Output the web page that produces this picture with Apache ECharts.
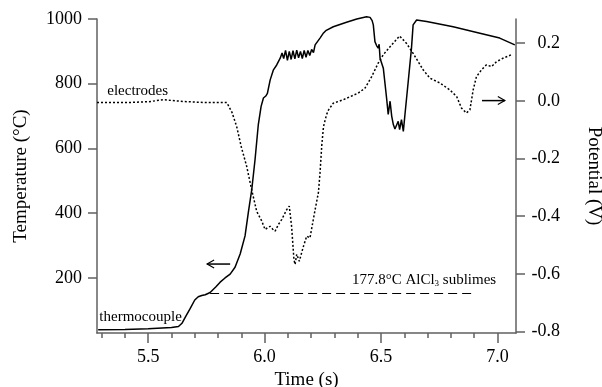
<!DOCTYPE html>
<html>

<head>
	<title>Temperature and potential</title>
	<script src="https://cdn.jsdelivr.net/npm/echarts@6/dist/echarts.min.js"></script>
</head>

<body style="margin:0">
	<div id="main" style="width: 602px;height:387px;"></div>
	<script type="text/javascript">
	// thermocouple temperature (degC) vs time (s)
	var tempTime = [5.285, 5.40, 5.50, 5.60, 5.63, 5.645, 5.66, 5.68, 5.70, 5.715, 5.73, 5.745, 5.766, 5.79, 5.809, 5.83, 5.852, 5.873, 5.895, 5.916, 5.93, 5.945, 5.959, 5.973, 5.985, 5.995, 6.005, 6.012, 6.024, 6.038, 6.052, 6.067,
		6.075, 6.082, 6.09, 6.098, 6.106, 6.114, 6.122, 6.13, 6.138, 6.146, 6.154, 6.162, 6.17, 6.178, 6.186, 6.194, 6.202, 6.21, 6.217, 6.238, 6.251, 6.265, 6.295, 6.352, 6.396, 6.438, 6.453, 6.462, 6.467, 6.474, 6.481, 6.488, 6.492, 6.496,
		6.51, 6.524, 6.531, 6.539, 6.546, 6.553, 6.56, 6.567, 6.574, 6.58, 6.588, 6.596, 6.603, 6.617, 6.631, 6.638, 6.653, 6.696, 6.81, 6.925, 7.01, 7.075];
	var tempValue = [40, 41, 43, 47, 50, 60, 80, 105, 132, 142, 146, 148, 155, 172, 187, 200, 212, 233, 274, 330, 402, 474, 566, 674, 730, 756, 762, 770, 812, 843, 858, 879,
		895, 878, 903, 872, 900, 875, 902, 877, 904, 880, 900, 878, 903, 882, 903, 887, 906, 896, 920, 941, 955, 965, 976, 990, 1000, 1007, 1005, 995, 982, 930, 918, 910, 922, 879,
		848, 756, 705, 746, 700, 674, 660, 658, 684, 658, 689, 653, 705, 807, 910, 982, 997, 992, 976, 956, 941, 920];

	// electrode potential (V) vs time (s)
	var potTime = [5.28, 5.40, 5.50, 5.566, 5.65, 5.75, 5.838, 5.86, 5.88, 5.90, 5.923, 5.945, 5.966, 5.988, 6.002, 6.012, 6.024, 6.035, 6.045, 6.059, 6.074, 6.095, 6.106, 6.116, 6.126, 6.131, 6.138, 6.149, 6.167, 6.181, 6.195, 6.217, 6.231,
		6.238, 6.246, 6.253, 6.266, 6.275, 6.295, 6.338, 6.402, 6.431, 6.46, 6.488, 6.51, 6.539, 6.58, 6.609, 6.638, 6.681, 6.71, 6.753, 6.796, 6.825, 6.846, 6.867, 6.882, 6.896, 6.91, 6.932, 6.953, 6.975, 6.996, 7.024, 7.06];
	var potValue = [-0.006, -0.006, -0.003, 0.004, -0.002, -0.006, -0.006, -0.04, -0.089, -0.16, -0.227, -0.31, -0.383, -0.417, -0.446, -0.44, -0.435, -0.445, -0.452, -0.429, -0.411, -0.377, -0.365, -0.435, -0.55, -0.567, -0.532, -0.556, -0.504, -0.469, -0.475, -0.377, -0.319,
		-0.25, -0.15, -0.089, -0.048, -0.031, -0.008, 0.004, 0.027, 0.044, 0.084, 0.131, 0.16, 0.188, 0.225, 0.2, 0.165, 0.108, 0.079, 0.062, 0.038, 0.015, -0.025, -0.042, -0.031, 0.038, 0.084, 0.108, 0.125, 0.119, 0.136, 0.148, 0.16];

	var timeLabels = [5.5, 6.0, 6.5, 7.0];
	var timeMinor = [5.3, 5.4, 5.6, 5.7, 5.8, 5.9, 6.1, 6.2, 6.3, 6.4, 6.6, 6.7, 6.8, 6.9];
	var tempTicks = [200, 400, 600, 800, 1000];
	var potTicks = [-0.8, -0.6, -0.4, -0.2, 0.0, 0.2];

	// sublimation line (drawn where it sits in the figure) and notes
	var sublimeLine = [[5.766, 152], [6.892, 152]];
	var leftArrow = [5.753, 5.852, 243]; // t from, t to, temperature
	var rightArrow = [6.934, 7.032, 0.001]; // t from, t to, potential

	var font = 'Liberation Serif';
	var axisGray = '#606060';

	function pairs(xs, ys) {
		var out = [];
		for (var i = 0; i < xs.length; i++) out.push([xs[i], ys[i]]);
		return out;
	}

	var myChart = echarts.init(document.getElementById('main'));

	var option = {
		animation: false,
		backgroundColor: '#fff',
		grid: { left: 97, right: 86, top: 19, bottom: 54, containLabel: false, outerBoundsMode: 'none' },
		xAxis: [{
			type: 'value',
			min: 5.28,
			max: 7.08,
			position: 'bottom',
			name: 'Time (s)',
			nameLocation: 'middle',
			nameGap: 27,
			nameTextStyle: { fontFamily: font, fontSize: 19, color: '#000' },
			axisLine: { show: true, onZero: false, lineStyle: { color: axisGray, width: 1.5 } },
			axisTick: { show: true, customValues: timeLabels, length: 10, lineStyle: { color: axisGray, width: 1.5 } },
			axisLabel: { customValues: timeLabels, margin: 15, fontFamily: font, fontSize: 18, color: '#000',
				formatter: function(v) { return v.toFixed(1); } },
			splitLine: { show: false }
		}, {
			type: 'value',
			min: 5.28,
			max: 7.08,
			position: 'bottom',
			axisLine: { show: false, onZero: false },
			axisTick: { show: true, customValues: timeMinor, length: 5, lineStyle: { color: axisGray, width: 1.5 } },
			axisLabel: { show: false },
			splitLine: { show: false }
		}],
		yAxis: [{
			type: 'value',
			min: 30,
			max: 1000,
			position: 'left',
			name: 'Temperature (°C)',
			nameLocation: 'middle',
			nameGap: 66,
			nameTextStyle: { fontFamily: font, fontSize: 19, color: '#000' },
			axisLine: { show: true, onZero: false, lineStyle: { color: axisGray, width: 1.5 } },
			axisTick: { show: true, customValues: tempTicks, length: 9, lineStyle: { color: axisGray, width: 1.5 } },
			axisLabel: { customValues: tempTicks, margin: 15, fontFamily: font, fontSize: 18, color: '#000',
				formatter: function(v) { return String(v); } },
			splitLine: { show: false }
		}, {
			type: 'value',
			min: -0.805,
			max: 0.284,
			position: 'right',
			name: 'Potential (V)',
			nameLocation: 'middle',
			nameRotate: -90,
			nameGap: 68,
			nameTextStyle: { fontFamily: font, fontSize: 19, color: '#000' },
			axisLine: { show: true, onZero: false, lineStyle: { color: axisGray, width: 1.5 } },
			axisTick: { show: true, customValues: potTicks, length: 9, lineStyle: { color: axisGray, width: 1.5 } },
			axisLabel: { customValues: potTicks, margin: 44, align: 'right', fontFamily: font, fontSize: 18, color: '#000',
				formatter: function(v) { return v.toFixed(1); } },
			splitLine: { show: false }
		}],
		series: [{
			name: 'thermocouple',
			type: 'line',
			xAxisIndex: 0,
			yAxisIndex: 0,
			showSymbol: false,
			clip: false,
			data: pairs(tempTime, tempValue),
			lineStyle: { color: '#000', width: 1.5 },
			markLine: {
				silent: true,
				symbol: ['none', 'none'],
				label: { show: false },
				lineStyle: { color: '#000', width: 1, type: [9, 5] },
				data: [[{ coord: sublimeLine[0] }, { coord: sublimeLine[1] }]]
			}
		}, {
			name: 'electrodes',
			type: 'line',
			xAxisIndex: 0,
			yAxisIndex: 1,
			showSymbol: false,
			clip: false,
			data: pairs(potTime, potValue),
			lineStyle: { color: '#000', width: 1.5, type: [2, 2] }
		}]
	};

	myChart.setOption(option);

	// notes and arrows, placed in data units
	function px(t, v, yi) {
		return myChart.convertToPixel({ xAxisIndex: 0, yAxisIndex: yi }, [t, v]);
	}

	function arrow(a, yi, pointLeft) {
		var p1 = px(a[0], a[2], yi);
		var p2 = px(a[1], a[2], yi);
		var tip = pointLeft ? p1 : p2;
		var d = pointLeft ? 7 : -7;
		return [{
			type: 'polyline',
			shape: { points: [p1, p2] },
			style: { stroke: '#000', lineWidth: 1.5, fill: null }
		}, {
			type: 'polyline',
			shape: { points: [[tip[0] + d, tip[1] - 4], tip, [tip[0] + d, tip[1] + 4]] },
			style: { stroke: '#000', lineWidth: 1.2, fill: null }
		}];
	}

	function note(text, t, v, yi, rich) {
		var p = px(t, v, yi);
		return {
			type: 'text',
			x: p[0],
			y: p[1],
			style: { text: text, fontFamily: font, fontSize: 15, fill: '#000', verticalAlign: 'middle', align: 'left', rich: rich }
		};
	}

	var graphics = [];
	graphics.push(note('electrodes', 5.324, 776, 0));
	graphics.push(note('thermocouple', 5.29, 79, 0));
	graphics.push(note('177.8°C AlCl{s|3} sublimes', 6.375, 194, 0, {
		s: { fontFamily: font, fontSize: 9, padding: [8, 0, 0, 0] }
	}));
	graphics = graphics.concat(arrow(leftArrow, 0, true));
	graphics = graphics.concat(arrow(rightArrow, 1, false));

	myChart.setOption({ graphic: graphics });
	</script>
</body>

</html>
